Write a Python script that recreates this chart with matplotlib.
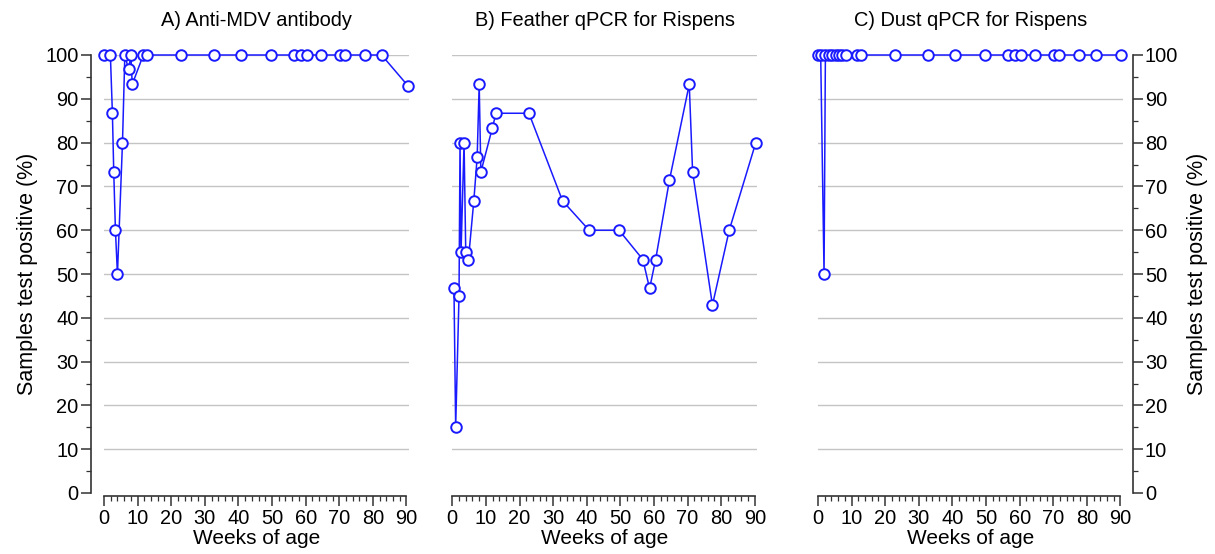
import matplotlib
matplotlib.use('Agg')
import matplotlib.pyplot as plt
from matplotlib.ticker import MultipleLocator

plt.rcParams['font.family'] = ['Liberation Sans', 'DejaVu Sans']

# Panel A: anti-MDV antibody
weeks_a = [0, 1.9, 2.5, 2.9, 3.4, 4.0, 5.5, 6.2, 7.3, 8.0, 8.4, 11.7, 12.9,
           23, 32.8, 40.8, 49.6, 56.5, 58.5, 60.5, 64.5, 70.2, 71.7, 77.7, 82.6, 90.4]
values_a = [100, 100, 86.7, 73.3, 60, 50, 80, 100, 96.7, 100, 93.3, 100, 100,
            100, 100, 100, 100, 100, 100, 100, 100, 100, 100, 100, 100, 93]

# Panel B: feather qPCR for Rispens
weeks_b = [0.5, 1.0, 2.0, 2.3, 2.6, 3.5, 4.0, 4.8, 6.4, 7.4, 8.0, 8.5, 11.9,
           13.0, 22.8, 32.8, 40.7, 49.6, 56.7, 58.7, 60.5, 64.6, 70.5, 71.5,
           77.4, 82.4, 90.3]
values_b = [46.7, 15, 45, 80, 55, 80, 55, 53.3, 66.7, 76.7, 93.3, 73.3, 83.3,
            86.7, 86.7, 66.7, 60, 60, 53.3, 46.7, 53.3, 71.4, 93.3, 73.3,
            42.9, 60, 80]

# Panel C: dust qPCR for Rispens
weeks_c = [0, 0.8, 1.8, 2.2, 3.3, 4.3, 5.3, 6.1, 7.2, 8.3, 11.7, 12.9,
           23, 32.8, 40.8, 49.6, 56.5, 58.5, 60.5, 64.5, 70.2, 71.7, 77.7, 82.6, 90.2]
values_c = [100, 100, 50, 100, 100, 100, 100, 100, 100, 100, 100, 100,
            100, 100, 100, 100, 100, 100, 100, 100, 100, 100, 100, 100, 100]

titles = ['A) Anti-MDV antibody', 'B) Feather qPCR for Rispens', 'C) Dust qPCR for Rispens']
grid_levels = list(range(10, 101, 10))

W, H = 1215, 554
fig = plt.figure(figsize=(W / 100, H / 100), dpi=100)

lefts = [104, 452.3, 818]
width = 304.5
bottom, height = 61, 438

line_col = '#1a1aff'
spine_col = '#333333'
fs = 14.4

panels = [(weeks_a, values_a), (weeks_b, values_b), (weeks_c, values_c)]
for i, (wk, val) in enumerate(panels):
    ax = fig.add_axes([lefts[i] / W, bottom / H, width / W, height / H])
    ax.set_xlim(0, 90.6)
    ax.set_ylim(0, 100)

    for g in grid_levels:
        ax.axhline(g, color='#c4c4c4', lw=1.0, zorder=1)

    ax.plot(wk, val, color=line_col, lw=1.1, marker='o', ms=7.6,
            mfc='white', mec=line_col, mew=1.4, clip_on=False, zorder=3)

    ax.set_title(titles[i], fontsize=fs, pad=21)

    for s in ['top', 'left', 'right', 'bottom']:
        ax.spines[s].set_visible(False)

    # x axis
    ax.spines['bottom'].set_visible(True)
    ax.spines['bottom'].set_position(('outward', 2.5))
    ax.spines['bottom'].set_bounds(0, 90)
    ax.spines['bottom'].set_color(spine_col)
    ax.spines['bottom'].set_linewidth(1.2)
    ax.xaxis.set_major_locator(MultipleLocator(10))
    ax.xaxis.set_minor_locator(MultipleLocator(2))
    ax.set_xticks(range(0, 91, 10))
    ax.tick_params(axis='x', which='major', length=7, width=1.1, color=spine_col,
                   labelsize=fs, pad=2)
    ax.tick_params(axis='x', which='minor', length=3.5, width=0.9, color=spine_col)
    ax.set_xlabel('Weeks of age', fontsize=15, labelpad=1)

    # y axis
    ax.yaxis.set_major_locator(MultipleLocator(10))
    ax.yaxis.set_minor_locator(MultipleLocator(5))
    if i == 0 or i == 2:
        side = 'left' if i == 0 else 'right'
        ax.spines[side].set_visible(True)
        ax.spines[side].set_position(('outward', 9.4 if i == 0 else 7.2))
        ax.spines[side].set_color(spine_col)
        ax.spines[side].set_linewidth(1.2)
        if i == 2:
            ax.yaxis.tick_right()
            ax.yaxis.set_label_position('right')
        ax.tick_params(axis='y', which='major', length=7, width=1.1, color=spine_col,
                       labelsize=fs, pad=2)
        ax.tick_params(axis='y', which='minor', length=3.5, width=0.9, color=spine_col)
        ax.set_ylabel('Samples test positive (%)', fontsize=15.5,
                      labelpad=5 if i == 0 else 6)
    else:
        ax.tick_params(axis='y', which='both', left=False, labelleft=False)

fig.savefig('out.png', dpi=100)
